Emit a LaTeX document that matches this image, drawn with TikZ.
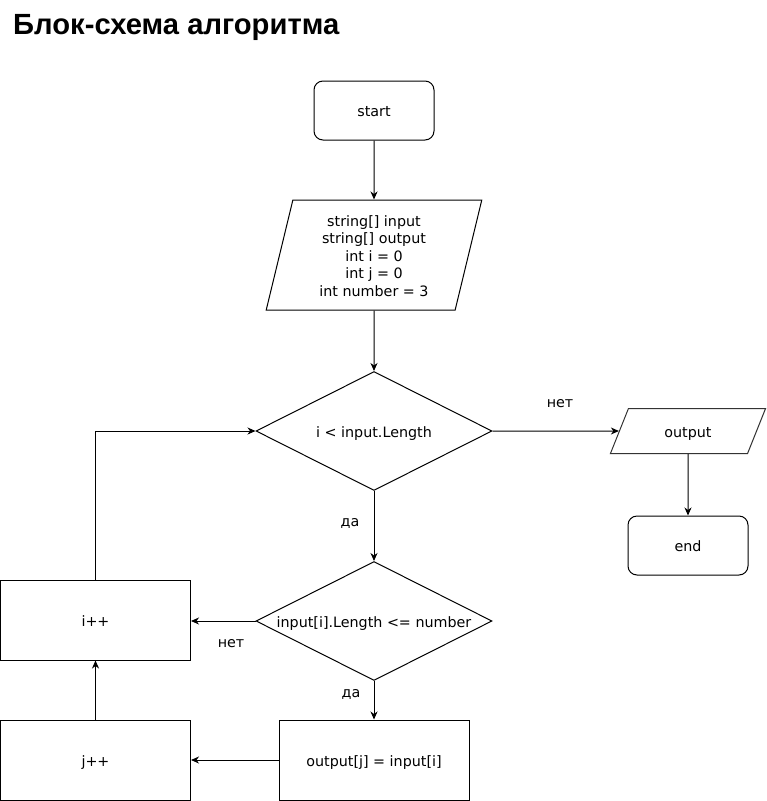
\documentclass[tikz,border=0pt]{standalone}
\usepackage{fontspec}
\setmainfont{DejaVu Sans}
\newfontfamily\titlefont{Liberation Sans}
\usetikzlibrary{shapes.geometric,arrows.meta}
\tikzset{
  every node/.style={font=\fontsize{14.3}{17.5}\selectfont, text=black},
  base/.style={draw=black, line width=1pt, inner sep=0pt, align=center, text height=14pt, text depth=2pt},
  term/.style={base, rectangle, rounded corners=9pt, minimum width=120pt, minimum height=59pt},
  proc/.style={base, rectangle, minimum width=190pt, minimum height=80pt},
  dec/.style={base, diamond, aspect=2, minimum width=236pt, minimum height=119pt},
  io/.style={base, trapezium, trapezium stretches=true},
  lbl/.style={inner sep=0pt},
  conn/.style={draw=black, line width=1pt, -{Stealth[length=8pt,width=7pt,inset=2.5pt]}}
}
\begin{document}
\begin{tikzpicture}[x=1pt,y=-1pt]
\useasboundingbox (0,0) rectangle (767,801);
\node[anchor=base west, inner sep=0pt, font=\titlefont\bfseries\fontsize{29.2}{33}\selectfont] (title) at (13,34) {Блок-схема алгоритма};

\node[term] (start) at (374,110.5) {start};
\node[io, text height=88pt, text depth=6pt, trapezium left angle=79.2, trapezium right angle=100.8, minimum width=216pt, minimum height=110pt] (vars) at (374,255)
  {string[] input\\string[] output\\int i = 0\\int j = 0\\int number = 3};
\node[dec] (d1) at (374,431) {i < input.Length};
\node[io, draw=black!80, trapezium left angle=66, trapezium right angle=114, minimum width=156pt, minimum height=45pt] (out) at (688,431) {output};
\node[term] (end) at (688,545.5) {end};
\node[dec] (d2) at (374,621) {input[i].Length <= number};
\node[proc] (inci) at (95.5,620) {i++};
\node[proc] (assign) at (374,760) {output[j] = input[i]};
\node[proc] (incj) at (95.5,760) {j++};

\node[lbl] (no1) at (560,404) {нет};
\node[lbl] (yes1) at (350,523.5) {да};
\node[lbl] (no2) at (231,644) {нет};
\node[lbl] (yes2) at (351,694) {да};

\draw[conn] (start.south) -- (vars.north);
\draw[conn] (vars.south) -- (d1.north);
\draw[conn] (d1.east) -- (out.west);
\draw[conn] (out.south) -- (end.north);
\draw[conn] (d1.south) -- (d2.north);
\draw[conn] (d2.west) -- (d2.west -| inci.east);
\draw[conn] (d2.south) -- (assign.north);
\draw[conn] (assign.west) -- (incj.east);
\draw[conn] (incj.north) -- (inci.south);
\draw[conn] (inci.north) -- (inci.north |- d1.west) -- (d1.west);
\end{tikzpicture}
\end{document}
